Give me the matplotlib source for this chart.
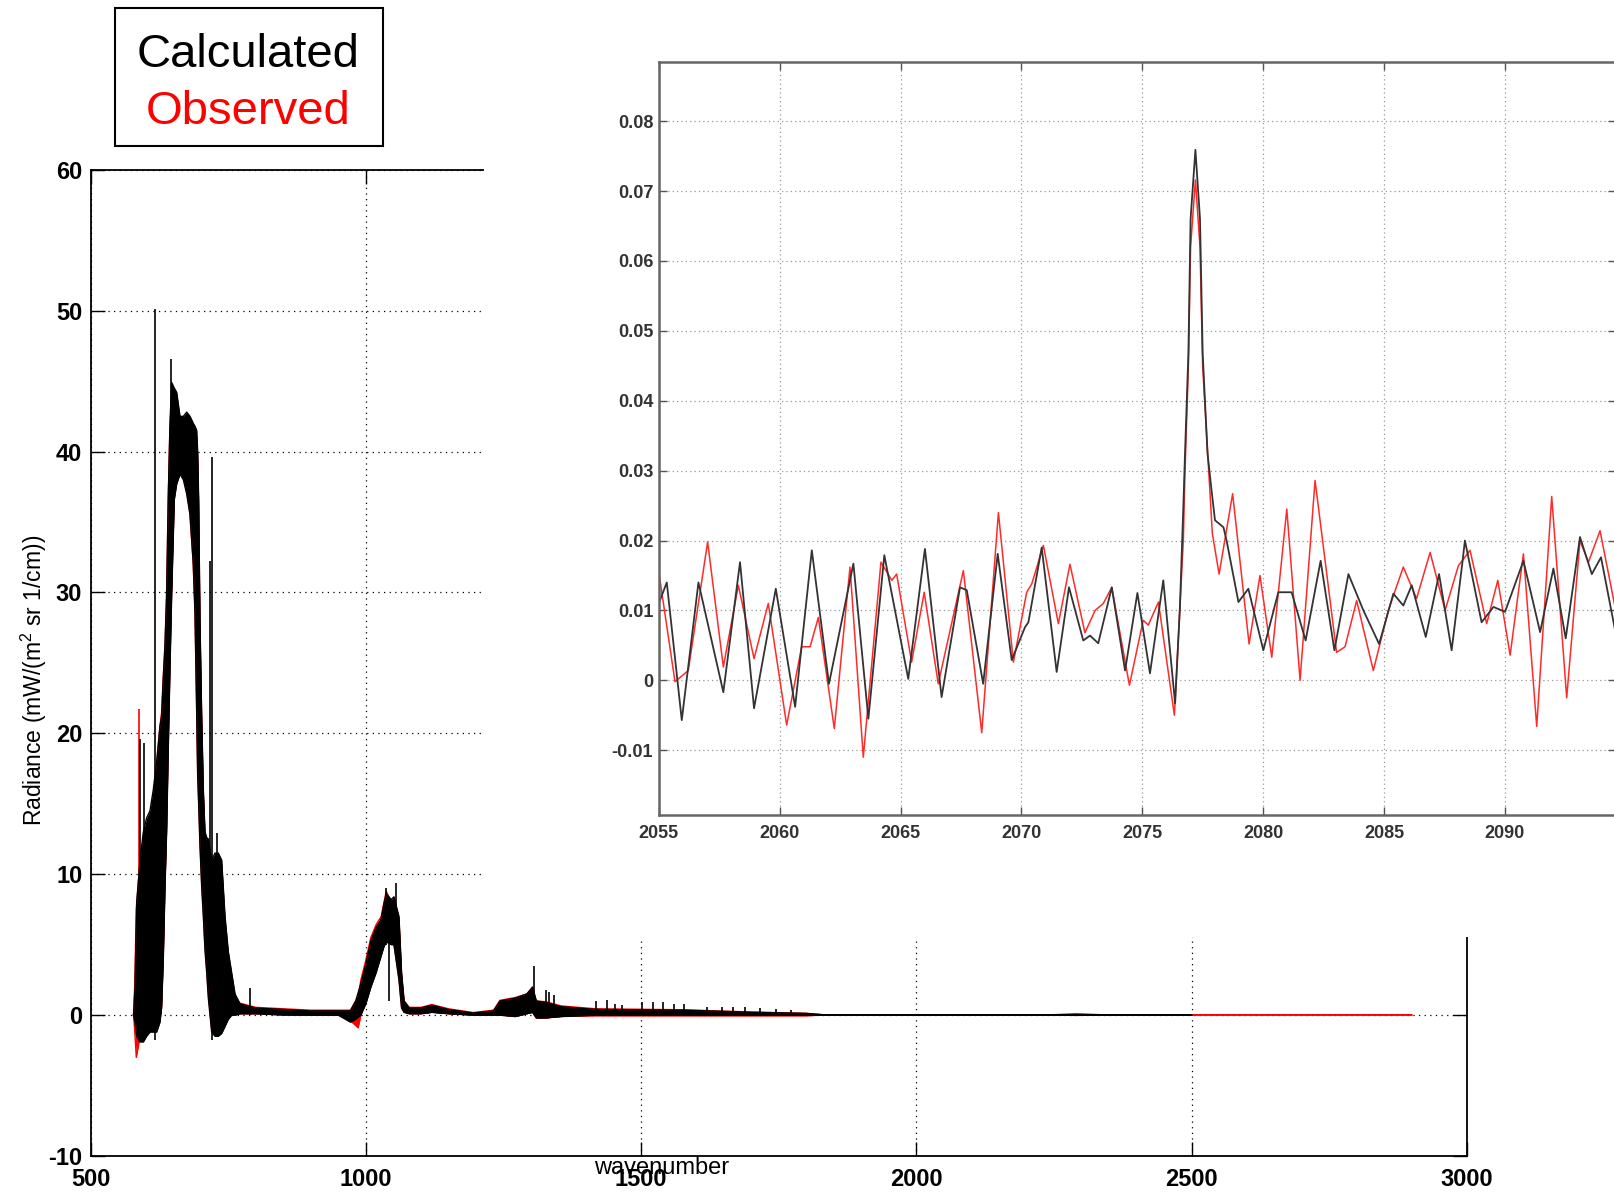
"""Calculated vs observed radiance spectrum, with a zoomed inset near 2077 cm-1."""

import matplotlib
matplotlib.use("Agg")
import matplotlib.pyplot as plt
from matplotlib.patches import Rectangle
from matplotlib.ticker import FuncFormatter

plt.rcParams["font.family"] = ["Liberation Sans", "DejaVu Sans"]
plt.rcParams["axes.unicode_minus"] = False
plt.rcParams["mathtext.default"] = "regular"

# ---- main spectrum: envelopes of the dense band (wavenumber, low, high) ----
calc_wn = [578, 580.7, 583.7, 589.8, 595.8, 601.8, 607.9, 613.9, 620, 626, 629, 632.1,
           635.1, 638.1, 641.2, 644.2, 647.3, 652.1, 656.4, 662.4, 668.5, 674.5, 680.6,
           686.6, 689.6, 692.7, 694.5, 696.3, 698.7, 701.8, 704.8, 707.8, 710.9, 713.9,
           719.9, 726, 732, 738.1, 744.2, 750.2, 756.3, 762.4, 771.4, 800, 850, 900, 950,
           972, 981.5, 990.7, 1000, 1009.3, 1018.5, 1027.8, 1032.4, 1037, 1046.3, 1051,
           1060.2, 1064.9, 1069.5, 1078.8, 1100, 1120, 1150, 1195, 1232, 1243.7, 1271.5,
           1292.4, 1302.8, 1309.7, 1327.1, 1354.9, 1417.5, 1577.4, 1700, 1799.8, 1830,
           2250, 2290, 2335, 2500]
calc_lo = [0, -0.5, -1.5, -1.9, -1.9, -1.5, -1.2, -1.2, -1.2, -0.5, 0.5, 4,
           9, 13, 19, 24.6, 29.8, 36.6, 37.7, 38.4, 38, 37, 35.5,
           32, 28.5, 21.5, 17, 15, 12, 9.1, 7, 4.6, 3, 1.2,
           -1.2, -1.5, -1.5, -1.3, -0.8, -0.3, 0, 0, 0.1, 0.1, 0, 0, 0,
           -0.5, -0.3, 0, 0.8, 2, 3, 4.2, 4.8, 5.2, 5, 5,
           2.5, 0.5, 0.2, 0.1, 0.1, 0.2, 0.1, 0, 0, 0, -0.1,
           0.1, 0.2, -0.2, -0.2, -0.1, 0, 0, 0, 0, 0,
           0, -0.02, 0, 0]
calc_hi = [0, 2, 8, 11, 13, 14, 14.5, 16, 18, 20.5, 21.2, 24,
           26.3, 30, 37, 42, 44.9, 44.5, 44.2, 42.5, 42.5, 42.8, 42.5,
           42, 41.8, 41.5, 40, 36.6, 28, 21.2, 16, 13, 12.6, 12.5,
           11, 11.5, 11.5, 11, 7, 4.5, 3, 1.5, 0.8, 0.5, 0.4, 0.3, 0.3,
           0.3, 1, 2.2, 3.6, 5.3, 6.2, 6.8, 7.8, 8.6, 8.2, 8.4,
           7, 3, 1, 0.5, 0.5, 0.7, 0.4, 0.15, 0.3, 1.0, 1.2,
           1.5, 2.0, 1.0, 0.9, 0.6, 0.4, 0.35, 0.2, 0.12, 0.03,
           0.03, 0.08, 0.03, 0.03]

obs_wn = [578, 580, 583, 589, 596, 602, 608, 614, 620, 626, 629, 632, 635, 638, 641,
          644, 647, 652, 656, 662, 668, 674, 680, 686, 689.6, 692.7, 694.5, 696.3, 698.7,
          701.8, 704.8, 707.8, 710.9, 713.9, 720, 726, 732, 738, 744, 750, 756, 762, 771,
          800, 850, 900, 950, 972, 986, 991, 1000, 1009, 1018.5, 1027.8, 1032.4, 1037,
          1046.3, 1051, 1060.2, 1064.9, 1069.5, 1078.8, 1100, 1120, 1150, 1195, 1232,
          1243.7, 1271.5, 1292.4, 1302.8, 1309.7, 1327.1, 1354.9, 1417.5, 1577.4, 1700,
          1799.8, 1830, 2900]
obs_lo = [0, -1, -3, -1.7, -1.7, -1.3, -1.0, -1.0, -1.0, -0.3, 0.7, 4.2, 9.2, 13.2, 19.2,
          24.8, 30, 36.8, 38, 38.7, 38.3, 37.3, 35.8, 32.3, 28.8, 21.8, 17.3, 15.3, 12.3,
          9.4, 7.3, 4.9, 3.3, 1.5, -1.0, -1.3, -1.3, -1.1, -0.6, -0.1, 0, 0, 0.1,
          0.1, 0.05, 0, 0, -0.4, -0.9, 0, 0.9, 2.1, 3.1, 4.3, 4.9, 5.3,
          5.1, 5.1, 2.6, 0.6, 0.2, 0.1, 0.1, 0.2, 0.1, 0, 0,
          0, -0.1, 0.1, 0.2, -0.2, -0.2, -0.1, -0.05, -0.05, -0.05,
          -0.05, 0, 0]
obs_hi = [0, 2, 7.5, 10.5, 12.5, 13.5, 14, 15.5, 17.8, 20.5, 21.5, 24, 26, 29.5, 36.5,
          41.5, 44, 44, 43.5, 42, 42, 42.3, 42, 41.5, 41.3, 41, 39.5, 36, 27.5,
          20.8, 15.7, 12.7, 12.3, 12.2, 10.7, 11.2, 11.2, 10.7, 6.7, 4.3, 2.8, 1.4, 0.85,
          0.55, 0.45, 0.35, 0.35, 0.35, 1.3, 2.5, 3.9, 5.5, 6.4, 7.0, 7.9, 8.8,
          8.0, 8.2, 6.8, 2.9, 1.0, 0.55, 0.55, 0.75, 0.45, 0.18, 0.35,
          1.05, 1.25, 1.5, 1.9, 1.0, 0.95, 0.65, 0.45, 0.38, 0.22,
          0.13, 0.03, 0.03]

# isolated lines sticking out of the band
calc_spike_wn = [589.5, 597.6, 616.4, 645.5, 716.9, 721.0, 729.1, 789.6, 1037, 1041.7,
                 1055.6, 1306.3, 1327.1, 1332.7, 1341.0, 1417.5, 1438.3, 1452.3, 1466.2,
                 1500.9, 1521.8, 1539.2, 1560.0, 1577.4, 1619.1, 1646.9, 1667.8, 1688.6,
                 1716.4, 1744.2, 1772.0]
calc_spike_lo = [-1.5, -1.5, -1.8, 30, 1.0, -1.8, -1.0, 0, 5, 1.0,
                 5, 0, 0, 0, 0, 0, 0, 0, 0,
                 0, 0, 0, 0, 0, 0, 0, 0, 0,
                 0, 0, 0]
calc_spike_hi = [19.6, 19.3, 50.1, 46.6, 32.2, 39.6, 12.9, 1.9, 9.0, 7.5,
                 9.4, 3.5, 1.8, 1.65, 1.4, 1.0, 1.1, 0.8, 0.7,
                 0.9, 0.9, 0.9, 0.8, 0.8, 0.6, 0.6, 0.55, 0.55,
                 0.5, 0.4, 0.35]
obs_spike_wn = [588.5]
obs_spike_lo = [0]
obs_spike_hi = [21.7]

# ---- inset: zoom 2055-2095 cm-1 ----
inset_calc_wn = [2055.0, 2055.33, 2055.95, 2056.64, 2057.67, 2058.36, 2058.94, 2059.84,
                 2060.64, 2061.33, 2062.04, 2063.05, 2063.67, 2064.33, 2065.32, 2066.01,
                 2066.70, 2067.46, 2067.74, 2068.42, 2069.02, 2069.60, 2070.15, 2070.29,
                 2070.84, 2071.46, 2071.97, 2072.56, 2072.84, 2073.18, 2073.74, 2074.29,
                 2074.80, 2075.32, 2075.87, 2076.36, 2076.56, 2076.70, 2076.77, 2076.91,
                 2077.00, 2077.20, 2077.39, 2077.50, 2077.70, 2077.87, 2078.01, 2078.36,
                 2078.49, 2078.98, 2079.39, 2080.01, 2080.63, 2081.18, 2081.76, 2082.38,
                 2082.95, 2083.53, 2084.15, 2084.80, 2085.39, 2085.80, 2086.15, 2086.73,
                 2087.28, 2087.80, 2088.24, 2088.35, 2089.04, 2089.53, 2090.01, 2090.77,
                 2091.46, 2092.01, 2092.52, 2093.11, 2093.60, 2093.98, 2094.6]
inset_calc_val = [0.011, 0.014, -0.0057, 0.014, -0.0017, 0.0169, -0.004, 0.0131,
                  -0.0038, 0.0186, -0.0005, 0.0167, -0.0055, 0.0179, 0.0002, 0.0188,
                  -0.0024, 0.0133, 0.0129, -0.0005, 0.0181, 0.0029, 0.0076, 0.0083,
                  0.019, 0.0012, 0.0133, 0.0057, 0.0064, 0.0053, 0.0133, 0.0014,
                  0.0125, 0.001, 0.0143, -0.0033, 0.0105, 0.0248, 0.0325, 0.0468,
                  0.066, 0.0759, 0.066, 0.0468, 0.0325, 0.0271, 0.0229, 0.0219,
                  0.02, 0.0112, 0.0131, 0.0043, 0.0126, 0.0126, 0.0057, 0.0171,
                  0.0043, 0.0152, 0.01, 0.0052, 0.0124, 0.0107, 0.0136, 0.0062,
                  0.0152, 0.0043, 0.0167, 0.02, 0.0083, 0.0105, 0.0098, 0.0171,
                  0.0069, 0.016, 0.006, 0.0205, 0.0152, 0.0176, 0.0065]

inset_obs_wn = [2055.0, 2055.67, 2056.22, 2057.02, 2057.67, 2058.29, 2058.94, 2059.53,
                2060.29, 2060.91, 2061.26, 2061.60, 2062.26, 2062.91, 2063.46, 2064.19,
                2064.64, 2064.84, 2065.46, 2065.98, 2066.56, 2067.60, 2068.36, 2069.05,
                2069.67, 2070.22, 2070.43, 2070.91, 2071.53, 2072.01, 2072.63, 2073.05,
                2073.39, 2073.74, 2074.47, 2075.04, 2075.25, 2075.67, 2076.33, 2076.70,
                2076.77, 2076.91, 2077.00, 2077.20, 2077.39, 2077.50, 2077.70, 2077.90,
                2078.18, 2078.74, 2079.42, 2079.87, 2080.36, 2080.98, 2081.53, 2082.15,
                2083.04, 2083.39, 2083.87, 2084.56, 2085.18, 2085.80, 2086.35, 2086.91,
                2087.53, 2088.08, 2088.56, 2089.25, 2089.71, 2090.22, 2090.77, 2091.32,
                2091.94, 2092.56, 2093.11, 2093.46, 2093.94, 2094.6]
inset_obs_val = [0.0155, -0.0002, 0.0014, 0.0198, 0.0019, 0.0136, 0.0031, 0.011,
                 -0.0064, 0.0048, 0.0048, 0.009, -0.0069, 0.0162, -0.011, 0.0169,
                 0.0143, 0.0152, 0.0026, 0.0126, -0.0005, 0.0157, -0.0075, 0.024,
                 0.0026, 0.0126, 0.0138, 0.0193, 0.0081, 0.0166, 0.0068, 0.01,
                 0.011, 0.0133, -0.0007, 0.0086, 0.0079, 0.0112, -0.005, 0.02,
                 0.03, 0.045, 0.062, 0.0716, 0.062, 0.045, 0.033, 0.021,
                 0.0152, 0.0267, 0.0052, 0.015, 0.0033, 0.0245, 0.0, 0.0286,
                 0.004, 0.0048, 0.0114, 0.0014, 0.01, 0.0162, 0.0117, 0.0183,
                 0.01, 0.0164, 0.0186, 0.0081, 0.0143, 0.0036, 0.0181, -0.0066,
                 0.0263, -0.0025, 0.02, 0.0169, 0.0214, 0.0098]

main_xticks = [500, 1000, 1500, 2000, 2500, 3000]
main_yticks = [-10, 0, 10, 20, 30, 40, 50, 60]
inset_xticks = [2055, 2060, 2065, 2070, 2075, 2080, 2085, 2090]
inset_yticks = [-0.01, 0, 0.01, 0.02, 0.03, 0.04, 0.05, 0.06, 0.07, 0.08]

W, H = 1614, 1194


def fx(px):
    return px / W


def fy(py):
    return 1 - py / H


def main() -> None:
    fig = plt.figure(figsize=(W / 100, H / 100), dpi=100)

    # main axes
    ax = fig.add_axes([fx(90.6), fy(1156), (1466.8 - 90.6) / W, (1156 - 169.8) / H])
    ax.fill_between(obs_wn, obs_lo, obs_hi, color="red", lw=0, zorder=2)
    ax.plot(obs_wn, obs_hi, color="red", lw=1, zorder=2)
    ax.plot(obs_wn, obs_lo, color="red", lw=1, zorder=2)
    ax.vlines(obs_spike_wn, obs_spike_lo, obs_spike_hi, color="red", lw=1.2, zorder=2)
    ax.fill_between(calc_wn, calc_lo, calc_hi, color="black", lw=0, zorder=3)
    ax.plot(calc_wn, calc_hi, color="black", lw=1, zorder=3)
    ax.plot(calc_wn, calc_lo, color="black", lw=1, zorder=3)
    ax.vlines(calc_spike_wn, calc_spike_lo, calc_spike_hi, color="black", lw=1.2, zorder=3)

    ax.set_xlim(500, 3000)
    ax.set_ylim(-10, 60)
    ax.set_xticks(main_xticks)
    ax.set_yticks(main_yticks)
    ax.grid(True, color="black", linestyle=(0, (1, 3.5)), lw=0.9)
    ax.tick_params(direction="in", top=True, right=True, length=10, width=1, labelsize=17)
    ax.tick_params(axis="x", pad=9)
    ax.tick_params(axis="y", pad=6)
    plt.setp(ax.get_xticklabels() + ax.get_yticklabels(), fontweight="bold")
    for sp in ax.spines.values():
        sp.set_linewidth(1.3)
    ax.set_xlabel("wavenumber", fontsize=17)
    ax.xaxis.set_label_coords(0.415, -0.001)

    # white area where the inset picture was pasted over the main plot
    ax.add_patch(Rectangle((fx(484), fy(937)), 1.01 - fx(484), 1.01 - fy(937),
                           transform=fig.transFigure, facecolor="white",
                           edgecolor="none", zorder=10, clip_on=False))

    fig.text(fx(34), fy(680), "Radiance (mW/(m$^2$ sr 1/cm))", rotation=90,
             ha="center", va="center", fontsize=16.5)

    # inset
    ax2 = fig.add_axes([fx(658.8), fy(815.2), (1616 - 658.8) / W, (815.2 - 61.8) / H])
    ax2.plot(inset_obs_wn, inset_obs_val, color="#ff2a2a", lw=1.1)
    ax2.plot(inset_calc_wn, inset_calc_val, color="#333333", lw=1.3)
    ax2.set_xlim(2055, 2094.6)
    ax2.set_ylim(-0.0193, 0.0885)
    ax2.set_xticks(inset_xticks)
    ax2.set_yticks(inset_yticks)
    ax2.yaxis.set_major_formatter(FuncFormatter(lambda v, _: f"{round(v, 2):g}"))
    ax2.grid(True, color="#999999", linestyle=(0, (1, 2.5)), lw=0.9)
    ax2.tick_params(direction="in", top=True, right=True, length=6, width=1,
                    colors="#555555", labelcolor="#333333", labelsize=13)
    ax2.tick_params(axis="x", pad=7)
    ax2.tick_params(axis="y", pad=4)
    plt.setp(ax2.get_xticklabels() + ax2.get_yticklabels(), fontweight="bold")
    for sp in ax2.spines.values():
        sp.set_color("#666666")
        sp.set_linewidth(1.8)

    # legend box
    fig.add_artist(Rectangle((fx(115), fy(145.7)), (383 - 115) / W, (145.7 - 8.3) / H,
                             transform=fig.transFigure, fill=False, edgecolor="black",
                             lw=1.5))
    fig.text(fx(248), fy(66.7), "Calculated", ha="center", va="baseline",
             fontsize=34, color="black")
    fig.text(fx(248), fy(124), "Observed", ha="center", va="baseline",
             fontsize=34, color="red")

    fig.savefig("out.png", dpi=100)
    plt.close(fig)


if __name__ == "__main__":
    main()
